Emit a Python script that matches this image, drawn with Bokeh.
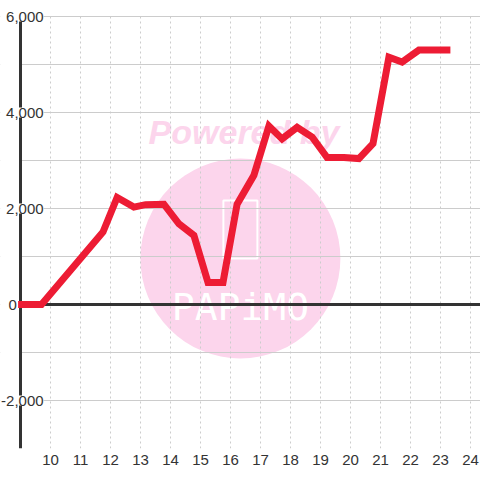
from bokeh.plotting import figure
from bokeh.models import ColumnDataSource, LabelSet, FixedTicker, Range1d, BoxAnnotation
from bokeh.core.properties import value
from bokeh.embed import file_html
from bokeh.resources import INLINE

# ---- data ----
hours = [8.92, 9.7, 11.75, 12.22, 12.78, 13.17, 13.78, 14.28, 14.78, 15.25, 15.75,
         16.22, 16.78, 17.28, 17.72, 18.22, 18.72, 19.22, 19.78, 20.28, 20.75,
         21.28, 21.72, 22.28, 23.33]
values = [0, 0, 1510, 2230, 2030, 2080, 2090, 1680, 1440, 460, 460,
          2090, 2690, 3720, 3450, 3690, 3490, 3060, 3060, 3040, 3350,
          5150, 5050, 5300, 5300]
x_ticks = list(range(10, 25))
y_label_ticks = [-2000, 0, 2000, 4000, 6000]
y_grid_ticks = list(range(-3000, 7000, 1000))
y_tick_text = ["-2,000", "0", "2,000", "4,000", "6,000"]

FONT = "Liberation Sans"
TXT = "#333333"
RED = "#ED1C34"
PINK = "#FCD5EC"

X_AXIS_AT = 9
Y_MIN, Y_MAX = -3000, 6000
X0 = X_AXIS_AT - 20 / 30
X1 = X0 + 480 / 30
Y1 = Y_MAX + 16 * 1000 / 48

p = figure(width=480, height=480, output_backend="svg", toolbar_location=None,
           x_range=Range1d(X0, X1), y_range=Range1d(Y_MIN, Y1),
           min_border_left=0, min_border_top=0, min_border_right=0, min_border_bottom=32)
p.outline_line_color = None
p.background_fill_color = "white"
p.border_fill_color = "white"

p.yaxis.visible = False
p.xaxis.ticker = FixedTicker(ticks=x_ticks)
p.xaxis.axis_line_color = None
p.xaxis.major_tick_line_color = None
p.xaxis.minor_tick_line_color = None
p.xaxis.major_tick_in = 0
p.xaxis.major_tick_out = 0
p.xaxis.major_label_standoff = 6
p.xaxis.major_label_text_font = FONT
p.xaxis.major_label_text_font_size = "15px"
p.xaxis.major_label_text_color = TXT

p.xgrid.ticker = FixedTicker(ticks=x_ticks)
p.xgrid.grid_line_color = "#cccccc"
p.xgrid.grid_line_dash = "2 3"
p.ygrid.ticker = FixedTicker(ticks=y_grid_ticks)
p.ygrid.grid_line_color = "#cccccc"

# white masks outside the plotting area (left of the axis, above the top)
p.add_layout(BoxAnnotation(right=X_AXIS_AT, fill_color="white", fill_alpha=1,
                           line_color=None, level="underlay"))
p.add_layout(BoxAnnotation(bottom=Y_MAX + 12, fill_color="white", fill_alpha=1,
                           line_color=None, level="underlay"))

# watermark (under grid)
p.scatter(x=[16.33], y=[958], size=200, marker="circle", fill_color=PINK,
          line_color=None, level="image")
p.text(x=[16.45], y=[3590], text=["Powered by"], text_font=value(FONT),
       text_font_style="bold italic", text_font_size="34px", text_color=PINK,
       text_align="center", text_baseline="alphabetic", level="image")
p.rect(x=[16.33], y=[1562], width=34, height=58, width_units="screen",
       height_units="screen", fill_alpha=0, line_color="white", line_width=2,
       level="image")
p.text(x=[16.33], y=[-62], text=["PAPiMO"], text_font=value("DejaVu Sans Mono"),
       text_font_size="38px", text_color="white", text_align="center",
       text_baseline="alphabetic", level="image")

# axis lines
p.segment(x0=[X_AXIS_AT], y0=[Y_MIN], x1=[X_AXIS_AT], y1=[Y_MAX],
          line_color=TXT, line_width=3)
p.segment(x0=[X_AXIS_AT], y0=[0], x1=[X1], y1=[0], line_color=TXT, line_width=3)

# data line
p.line(hours, values, line_color=RED, line_width=7, line_join="miter")

# y tick labels with white background
lx = [9.77 if v != 0 else 8.88 for v in y_label_ticks]
src = ColumnDataSource(dict(x=lx, y=y_label_ticks, t=y_tick_text))
p.add_layout(LabelSet(x="x", y="y", text="t", source=src, text_align="right",
                      text_baseline="middle", text_font=value(FONT),
                      text_font_size="15px", text_color=TXT,
                      background_fill_color="white"))

open("out.html", "w").write(file_html(p, INLINE))
